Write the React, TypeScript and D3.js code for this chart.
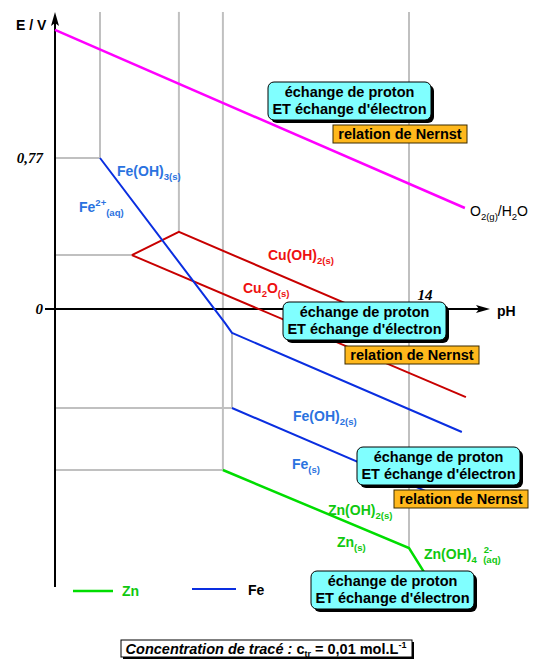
import React from "react";
import * as d3 from "d3";

// Schematic E-pH diagram (Fe, Cu, Zn, water), pH on x, E in volts on y.
type Pt = [number, number];

const eTickValues = [0, 0.77];
const eTickLabels = ["0", "0,77"];
const phTickValues = [14];
const phTickLabels = ["14"];

// Boundary lines [pH, E]
const o2Line: Pt[] = [[0, 1.423], [16.21, 0.515]];
const feUpperLine: Pt[] = [[1.78, 0.77], [6.72, -0.071], [7.0, -0.122], [16.09, -0.627]];
const feLowerLine: Pt[] = [[7.0, -0.505], [15.22, -0.959]];
const cuUpperLine: Pt[] = [[3.04, 0.275], [4.9, 0.393], [14.43, -0.133]];
const cuLowerLine: Pt[] = [[3.04, 0.275], [16.25, -0.449]];
const znLine: Pt[] = [[6.64, -0.821], [14.0, -1.219], [14.91, -1.407]];

// Grey construction lines
const E_TOP = 1.515;
const guideLines: Pt[][] = [
  [[0, 0.77], [1.78, 0.77], [1.78, E_TOP]],
  [[4.9, 0.393], [4.9, E_TOP]],
  [[0, 0.275], [3.04, 0.275]],
  [[0, -0.821], [6.64, -0.821], [6.64, E_TOP]],
  [[0, -0.505], [7.0, -0.505], [7.0, -0.122]],
  [[14.0, -1.219], [14.0, E_TOP]],
];

const legendNames = ["Zn", "Fe"];

const x = d3.scaleLinear().domain([0, 14]).range([55, 409]);
const y = d3.scaleLinear().domain([0, 0.77]).range([309, 158]);
const line = d3.line<Pt>().x((d) => x(d[0])).y((d) => y(d[1]));

const SANS = "'Liberation Sans', Arial, sans-serif";
const SERIF = "'Liberation Serif', 'Times New Roman', serif";

const BLUE_LINE = "#0a2ee0";
const BLUE_TEXT = "#2b72e0";
const RED_LINE = "#c80000";
const RED_TEXT = "#ee1010";
const GREEN_LINE = "#00dd00";
const GREEN_TEXT = "#10c810";

type Part = { t: string; s?: "sub" | "sup"; dx?: number };

function Chem({ px, py, parts, fill, size = 14, weight = "bold" }: { px: number; py: number; parts: Part[]; fill: string; size?: number; weight?: string }) {
  let cur = 0;
  return (
    <text x={px} y={py} fill={fill} fontFamily={SANS} fontWeight={weight} fontSize={size}>
      {parts.map((p, i) => {
        const target = p.s === "sub" ? 4 : p.s === "sup" ? -6 : 0;
        const dy = target - cur;
        cur = target;
        return (
          <tspan key={i} dy={dy} dx={p.dx ?? 0} fontSize={p.s ? size * 0.68 : size}>
            {p.t}
          </tspan>
        );
      })}
    </text>
  );
}

function ExchangeBox({ bx, by, w = 163, h = 38 }: { bx: number; by: number; w?: number; h?: number }) {
  return (
    <g>
      <rect x={bx + 3} y={by + 3} width={w} height={h} rx={6} fill="#000" />
      <rect x={bx} y={by} width={w} height={h} rx={6} fill="#80ffff" stroke="#000" strokeWidth={1} />
      <text x={bx + w / 2} y={by + 15} textAnchor="middle" fontFamily={SANS} fontWeight="bold" fontSize={14.5} fill="#000">
        échange de proton
      </text>
      <text x={bx + w / 2} y={by + 32} textAnchor="middle" fontFamily={SANS} fontWeight="bold" fontSize={14.5} fill="#000">
        ET échange d'électron
      </text>
    </g>
  );
}

function NernstBox({ bx, by, w = 134, h = 18 }: { bx: number; by: number; w?: number; h?: number }) {
  return (
    <g>
      <rect x={bx} y={by} width={w} height={h} fill="#ffb81c" stroke="#3a2a00" strokeWidth={1} />
      <text x={bx + w / 2} y={by + 14} textAnchor="middle" fontFamily={SANS} fontWeight="bold" fontSize={14.5} fill="#000">
        relation de Nernst
      </text>
    </g>
  );
}

export default function App() {
  const x0 = x(0);
  const yTop = 12;
  const yBottom = 587;
  const y0 = y(0);
  return (
    <div style={{ position: "absolute", left: 0, top: 0 }}>
      <svg width={536} height={664} style={{ display: "block", background: "#fff" }}>
        {/* construction lines */}
        {guideLines.map((g, i) => (
          <path key={i} d={line(g) ?? ""} fill="none" stroke="#c0c0c0" strokeWidth={2} />
        ))}

        {/* axes */}
        <line x1={x0} y1={yBottom} x2={x0} y2={yTop + 10} stroke="#000" strokeWidth={2} />
        <path d={`M${x0},${yTop} L${x0 - 4},${yTop + 14} L${x0},${yTop + 11} L${x0 + 4},${yTop + 14} Z`} fill="#000" />
        <line x1={45} y1={y0} x2={480} y2={y0} stroke="#000" strokeWidth={2} />
        <path d={`M490,${y0} L476,${y0 - 4} L479,${y0} L476,${y0 + 4} Z`} fill="#000" />
        <text x={16} y={30} fontFamily={SANS} fontWeight="bold" fontSize={14}>E / V</text>
        <text x={497} y={316} fontFamily={SANS} fontWeight="bold" fontSize={14}>pH</text>
        {eTickValues.map((v, i) => (
          <text key={i} x={x0 - 12} y={y(v) + 5} textAnchor="end" fontFamily={SERIF} fontStyle="italic" fontWeight="bold" fontSize={15}>
            {eTickLabels[i]}
          </text>
        ))}
        {phTickValues.map((v, i) => (
          <text key={i} x={x(v) + 16} y={y0 - 9} textAnchor="middle" fontFamily={SERIF} fontStyle="italic" fontWeight="bold" fontSize={15}>
            {phTickLabels[i]}
          </text>
        ))}

        {/* boundaries */}
        <path d={line(o2Line) ?? ""} fill="none" stroke="#ff00ff" strokeWidth={2.5} />
        <path d={line(cuUpperLine) ?? ""} fill="none" stroke={RED_LINE} strokeWidth={2} />
        <path d={line(cuLowerLine) ?? ""} fill="none" stroke={RED_LINE} strokeWidth={2} />
        <path d={line(feUpperLine) ?? ""} fill="none" stroke={BLUE_LINE} strokeWidth={2} strokeLinejoin="round" />
        <path d={line(feLowerLine) ?? ""} fill="none" stroke={BLUE_LINE} strokeWidth={2} />
        <path d={line(znLine) ?? ""} fill="none" stroke={GREEN_LINE} strokeWidth={2.5} />

        {/* species */}
        <Chem px={117} py={176} fill={BLUE_TEXT} parts={[{ t: "Fe(OH)" }, { t: "3(s)", s: "sub" }]} />
        <Chem px={79} py={212} fill={BLUE_TEXT} parts={[{ t: "Fe" }, { t: "2+", s: "sup" }, { t: "(aq)", s: "sub" }]} />
        <Chem px={268} py={260} fill={RED_TEXT} parts={[{ t: "Cu(OH)" }, { t: "2(s)", s: "sub" }]} />
        <Chem px={243} py={293} fill={RED_TEXT} parts={[{ t: "Cu" }, { t: "2", s: "sub" }, { t: "O" }, { t: "(s)", s: "sub" }]} />
        <Chem px={293} py={421} fill={BLUE_TEXT} parts={[{ t: "Fe(OH)" }, { t: "2(s)", s: "sub" }]} />
        <Chem px={292} py={469} fill={BLUE_TEXT} parts={[{ t: "Fe" }, { t: "(s)", s: "sub" }]} />
        <Chem px={328} py={515} fill={GREEN_TEXT} parts={[{ t: "Zn(OH)" }, { t: "2(s)", s: "sub" }]} />
        <Chem px={337} py={547} fill={GREEN_TEXT} parts={[{ t: "Zn" }, { t: "(s)", s: "sub" }]} />
        <Chem px={424} py={559} fill={GREEN_TEXT} parts={[{ t: "Zn(OH)" }, { t: "4", s: "sub" }, { t: "2-", s: "sup", dx: 7 }, { t: "(aq)", s: "sub", dx: -9 }]} />
        <Chem px={470} py={216} fill="#000" weight="normal" size={14} parts={[{ t: "O" }, { t: "2(g)", s: "sub" }, { t: "/H" }, { t: "2", s: "sub" }, { t: "O" }]} />

        {/* annotation boxes */}
        <ExchangeBox bx={268} by={82} />
        <NernstBox bx={333} by={125} />
        <ExchangeBox bx={283} by={302} />
        <NernstBox bx={345} by={346} />
        <ExchangeBox bx={357} by={447} />
        <NernstBox bx={394} by={490} />
        <ExchangeBox bx={311} by={571} />

        {/* legend */}
        <line x1={73} y1={591} x2={113} y2={591} stroke={GREEN_LINE} strokeWidth={2.5} />
        <text x={122} y={596} fill={GREEN_TEXT} fontFamily={SANS} fontWeight="bold" fontSize={14}>{legendNames[0]}</text>
        <line x1={192} y1={589} x2={236} y2={589} stroke={BLUE_LINE} strokeWidth={2} />
        <text x={248} y={595} fill="#000" fontFamily={SANS} fontWeight="bold" fontSize={14}>{legendNames[1]}</text>

        {/* caption */}
        <rect x={123} y={642} width={291} height={17} fill="#000" />
        <rect x={121} y={640} width={291} height={17} fill="#fff" stroke="#000" strokeWidth={1} />
        <text x={266} y={654} textAnchor="middle" fontFamily={SANS} fontWeight="bold" fontSize={14.5} fill="#000">
          <tspan fontStyle="italic">Concentration de tracé :</tspan>
          <tspan> c</tspan>
          <tspan dy={3} fontSize={9}>tr</tspan>
          <tspan dy={-3}> = 0,01 mol.L</tspan>
          <tspan dy={-6} fontSize={9}>-1</tspan>
        </text>
      </svg>
    </div>
  );
}
